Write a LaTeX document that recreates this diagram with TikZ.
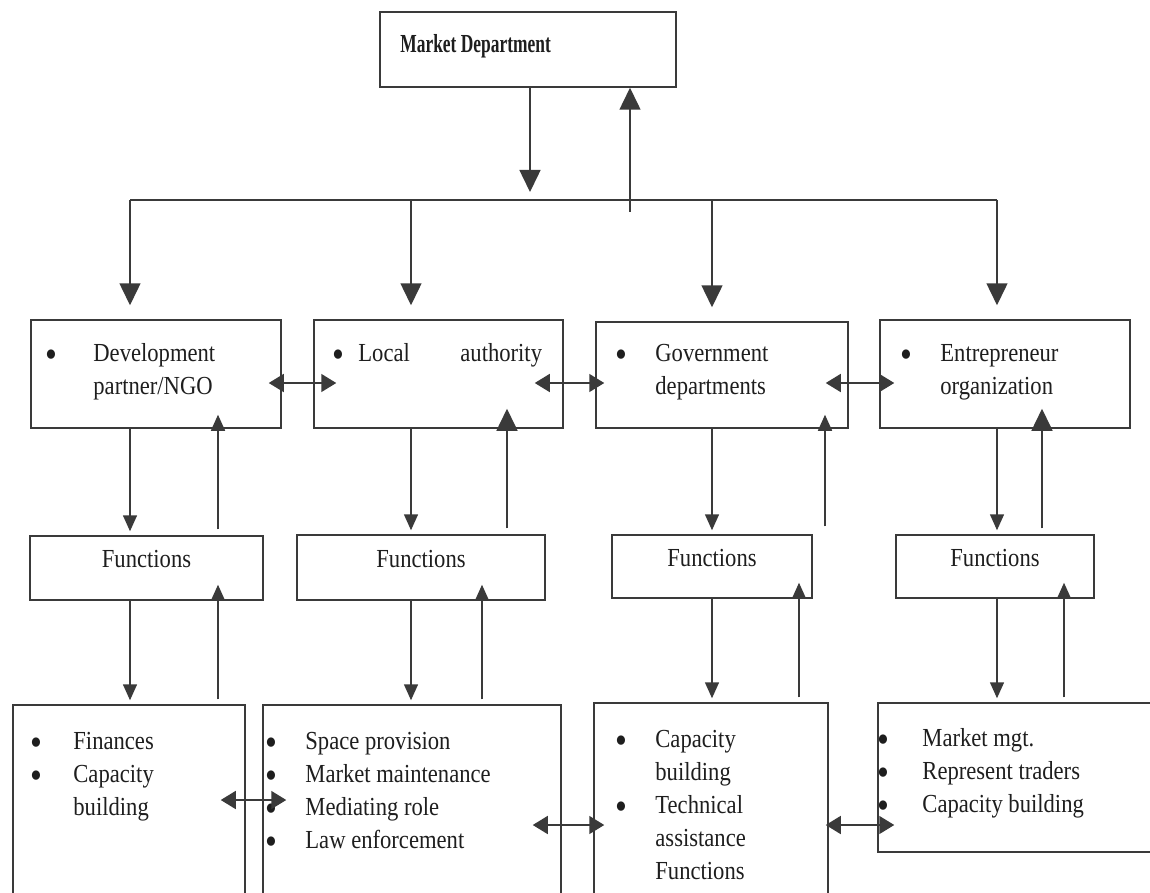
\documentclass[tikz,border=0pt]{standalone}
\usepackage{fontspec}
\setmainfont{Liberation Serif}[FakeStretch=0.87]
\newfontfamily\mktfont{Liberation Serif}[FakeStretch=0.67]
\usetikzlibrary{arrows.meta,fit,calc}
\definecolor{ln}{HTML}{3A3A3A}
\definecolor{tx}{HTML}{1E1E1E}
\newcommand\bul{\smash{\raisebox{-3.3pt}{\scalebox{1.5}{\textbullet}}}}
\begin{document}
\begin{tikzpicture}[x=0.5pt,y=-0.5pt,
 box/.style={draw=ln, line width=0.75pt, inner sep=0pt, rectangle, text=tx, font=\fontsize{13}{16.5}\selectfont},
 con/.style={draw=ln, line width=0.75pt},
 bigarr/.style={con, -{Triangle[length=11pt,width=10.5pt]}},
 midarr/.style={con, -{Triangle[length=8pt,width=7pt]}},
 darr/.style={con, {Triangle[length=7.5pt,width=9pt]}-{Triangle[length=7.5pt,width=9pt]}},
 lbl/.style={inner sep=0pt, anchor=base west, text=tx, font=\fontsize{13}{16.5}\selectfont},
]
\useasboundingbox (0,0) rectangle (1150,893);
\fill[white] (0,0) rectangle (1150,893);
\clip (0,0) rectangle (1150,893);

% boxes
\node[box, fit={(380,12) (676,87)}] (mkt) {};
\node[box, fit={(31,320) (281,428)}] (r1) {};
\node[box, fit={(314,320) (563,428)}] (r2) {};
\node[box, fit={(596,322) (848,428)}] (r3) {};
\node[box, fit={(880,320) (1130,428)}] (r4) {};
\node[box, fit={(30,536) (263,600)}] (f1) {Functions};
\node[box, fit={(297,535) (545,600)}] (f2) {Functions};
\node[box, fit={(612,535) (812,598)}] (f3) {Functions};
\node[box, fit={(896,535) (1094,598)}] (f4) {Functions};
\node[box, fit={(13,705) (245,960)}] (b1) {};
\node[box, fit={(263,705) (561,960)}] (b2) {};
\node[box, fit={(594,703) (828,960)}] (b3) {};
\node[box, fit={(878,703) (1170,852)}] (b4) {};

% texts
\node[lbl] (tm) at (400,53) {\mktfont\bfseries Market Department};
\node[lbl] (t1) at (45,361) {\begin{tabular}[t]{@{}p{24pt}@{}l@{}}\bul & Development\\ & partner/NGO\end{tabular}};
\node[lbl] (t2) at (332,361) {\begin{tabular}[t]{@{}p{13pt}@{}l@{}}\bul & \makebox[51pt][l]{Local}authority\end{tabular}};
\node[lbl] (t3) at (615,361) {\begin{tabular}[t]{@{}p{20pt}@{}l@{}}\bul & Government\\ & departments\end{tabular}};
\node[lbl] (t4) at (900,361) {\begin{tabular}[t]{@{}p{20pt}@{}l@{}}\bul & Entrepreneur\\ & organization\end{tabular}};
\node[lbl] (s1) at (30,749) {\begin{tabular}[t]{@{}p{21.5pt}@{}l@{}}\bul & Finances\\ \bul & Capacity\\ & building\end{tabular}};
\node[lbl] (s2) at (265,749) {\begin{tabular}[t]{@{}p{20pt}@{}l@{}}\bul & Space provision\\ \bul & Market maintenance\\ \bul & Mediating role\\ \bul & Law enforcement\end{tabular}};
\node[lbl] (s3) at (615,747) {\begin{tabular}[t]{@{}p{20pt}@{}l@{}}\bul & Capacity\\ & building\\ \bul & Technical\\ & assistance\\ & Functions\end{tabular}};
\node[lbl] (s4) at (877,746) {\begin{tabular}[t]{@{}p{22.5pt}@{}l@{}}\bul & Market mgt.\\ \bul & Represent traders\\ \bul & Capacity building\end{tabular}};

% reference coordinates
\coordinate (mdn) at (530,0);
\coordinate (mup) at (630,0);
\coordinate (busL) at (130,200);
\coordinate (busR) at (997,200);
\coordinate (cA) at (130,0);
\coordinate (cB) at (411,0);
\coordinate (cC) at (712,0);
\coordinate (cD) at (997,0);
\coordinate (uA) at (218,0);
\coordinate (uB) at (507,0);
\coordinate (uC) at (825,0);
\coordinate (uD) at (1042,0);
\coordinate (vA) at (218,0);
\coordinate (vB) at (482,0);
\coordinate (vC) at (799,0);
\coordinate (vD) at (1064,0);
\coordinate (yr) at (0,383);
\coordinate (yb1) at (0,800);
\coordinate (yb2) at (0,825);

% top connectors
\draw[bigarr] (mdn |- mkt.south) -- ($(mdn |- busL)+(0,-8)$);
\draw[bigarr] ($(mup |- busL)+(0,12)$) -- (mup |- mkt.south);
\draw[con] (busL) -- (busR);
\foreach \c/\n in {cA/r1,cB/r2,cC/r3,cD/r4}
  \draw[bigarr] (\c |- busL) -- ($(\c |- \n.north)+(0,-14)$);

% row 2 <-> functions
\foreach \c/\r/\f in {cA/r1/f1,cB/r2/f2,cC/r3/f3,cD/r4/f4}
  \draw[midarr] (\c |- \r.south) -- ($(\c |- \f.north)+(0,-4)$);
\draw[midarr] ($(uA |- f1.north)+(0,-6)$) -- ($(uA |- r1.south)+(0,-14)$);
\draw[bigarr] ($(uB |- f2.north)+(0,-6)$) -- ($(uB |- r2.south)+(0,-20)$);
\draw[midarr] ($(uC |- f3.north)+(0,-8)$) -- ($(uC |- r3.south)+(0,-14)$);
\draw[bigarr] ($(uD |- f4.north)+(0,-6)$) -- ($(uD |- r4.south)+(0,-20)$);

% functions <-> bottom
\foreach \c/\f/\b in {cA/f1/b1,cB/f2/b2,cC/f3/b3,cD/f4/b4}
  \draw[midarr] (\c |- \f.south) -- ($(\c |- \b.north)+(0,-4)$);
\foreach \v/\f/\b in {vA/f1/b1,vB/f2/b2,vC/f3/b3,vD/f4/b4}
  \draw[midarr] ($(\v |- \b.north)+(0,-5)$) -- ($(\v |- \f.south)+(0,-16)$);

% horizontal double arrows
\draw[darr] ($(r1.east |- yr)+(-13,0)$) -- ($(r2.west |- yr)+(23,0)$);
\draw[darr] ($(r2.east |- yr)+(-29,0)$) -- ($(r3.west |- yr)+(9,0)$);
\draw[darr] ($(r3.east |- yr)+(-23,0)$) -- ($(r4.west |- yr)+(15,0)$);
\draw[darr] ($(b1.east |- yb1)+(-25,0)$) -- ($(b2.west |- yb1)+(24,0)$);
\draw[darr] ($(b2.east |- yb2)+(-29,0)$) -- ($(b3.west |- yb2)+(11,0)$);
\draw[darr] ($(b3.east |- yb2)+(-3,0)$) -- ($(b4.west |- yb2)+(17,0)$);
\end{tikzpicture}
\end{document}
